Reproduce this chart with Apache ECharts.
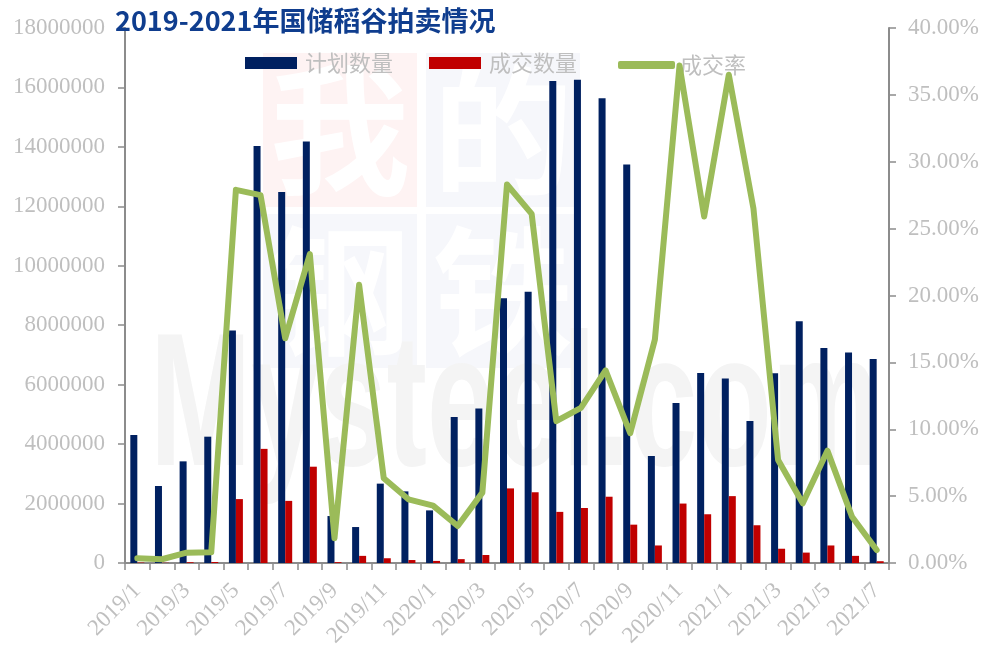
<!DOCTYPE html>
<html>
<head>
<meta charset="utf-8">
<script src="https://cdn.jsdelivr.net/npm/echarts@6/dist/echarts.min.js"></script>
<style>
html,body{margin:0;padding:0;background:#fff;}
#chart{width:985px;height:646px;}
</style>
</head>
<body>
<div id="chart"></div>
<script>
var categories = ['2019/1','2019/2','2019/3','2019/4','2019/5','2019/6','2019/7','2019/8','2019/9','2019/10','2019/11','2019/12',
  '2020/1','2020/2','2020/3','2020/4','2020/5','2020/6','2020/7','2020/8','2020/9','2020/10','2020/11','2020/12',
  '2021/1','2021/2','2021/3','2021/4','2021/5','2021/6','2021/7'];
var planned = [4310000,2590000,3420000,4250000,7820000,14030000,12480000,14180000,1580000,1210000,2670000,2410000,
  1770000,4910000,5200000,8910000,9130000,16220000,16260000,15640000,13410000,3600000,5380000,6390000,
  6210000,4780000,6380000,8130000,7230000,7080000,6860000];
var dealt = [15000,8000,26000,34000,2150000,3840000,2090000,3240000,29000,240000,160000,100000,
  70000,130000,270000,2510000,2380000,1720000,1850000,2230000,1290000,590000,2000000,1640000,
  2250000,1270000,480000,350000,590000,240000,60000];
var rate = [0.0035,0.0028,0.0077,0.0080,0.279,0.275,0.168,0.231,0.0185,0.208,0.0633,0.0476,
  0.0429,0.0277,0.0526,0.283,0.261,0.106,0.116,0.144,0.097,0.167,0.372,0.259,
  0.365,0.265,0.077,0.0446,0.084,0.0346,0.0097];
var leftTicks = {min:0, max:18000000, interval:2000000};
var rightTicks = {min:0, max:0.4, interval:0.05};

var chart = echarts.init(document.getElementById('chart'), null, {renderer:'canvas'});
var gray = '#BFBFBF';
var axisColor = '#8C8C8C';
var cjk = '"Noto Sans CJK SC", sans-serif';
var serif = '"Liberation Serif", "Times New Roman", serif';
var wmFont = 'bold 140px "Noto Sans CJK SC"';

chart.setOption({
  backgroundColor:'#ffffff',
  animation:false,
  title:{
    text:'2019-2021年国储稻谷拍卖情况',
    left:110, top:2,
    textStyle:{color:'#0F3D8E', fontSize:27, fontWeight:'bold', fontFamily:cjk}
  },
  graphic:[
    {type:'rect', z:-10, shape:{x:263,y:53,width:154,height:154}, style:{fill:'#FEF3F3'}},
    {type:'rect', z:-10, shape:{x:426,y:53,width:154,height:154}, style:{fill:'#F6F7FB'}},
    {type:'rect', z:-10, shape:{x:263,y:214,width:154,height:154}, style:{fill:'#F6F7FB'}},
    {type:'rect', z:-10, shape:{x:426,y:214,width:154,height:154}, style:{fill:'#F6F7FB'}},
    {type:'text', z:-9, x:340, y:130, style:{text:'我', font:wmFont, fill:'#ffffff', align:'center', verticalAlign:'middle', textAlign:'center', textVerticalAlign:'middle'}},
    {type:'text', z:-9, x:503, y:130, style:{text:'的', font:wmFont, fill:'#ffffff', align:'center', verticalAlign:'middle', textAlign:'center', textVerticalAlign:'middle'}},
    {type:'text', z:-9, x:340, y:291, style:{text:'钢', font:wmFont, fill:'#ffffff', align:'center', verticalAlign:'middle', textAlign:'center', textVerticalAlign:'middle'}},
    {type:'text', z:-9, x:503, y:291, style:{text:'铁', font:wmFont, fill:'#ffffff', align:'center', verticalAlign:'middle', textAlign:'center', textVerticalAlign:'middle'}},
    {type:'text', z:-8, x:150, y:318, scaleX:0.64, style:{text:'Mysteel.com', font:'bold 190px "Liberation Sans"', fill:'#F4F4F4'}}
  ],
  legend:[
    {
      data:[{name:'计划数量', icon:'rect'},{name:'成交数量', icon:'rect'}],
      left:240, top:47,
      itemWidth:52, itemHeight:12, itemGap:36,
      textStyle:{color:gray, fontSize:22, fontFamily:cjk, padding:[0,0,0,3]}
    },
    {
      data:[{name:'成交率', icon:'roundRect'}],
      left:613, top:49,
      itemWidth:57, itemHeight:8,
      textStyle:{color:gray, fontSize:22, fontFamily:cjk, padding:[0,0,0,0]}
    }
  ],
  grid:{left:125, right:96, top:28, bottom:83, containLabel:false, outerBoundsMode:'none'},
  xAxis:{
    type:'category',
    data:categories,
    boundaryGap:true,
    axisLine:{lineStyle:{color:axisColor, width:2}},
    axisTick:{show:true, interval:0, length:7, lineStyle:{color:axisColor, width:1.5}},
    axisLabel:{interval:1, rotate:45, color:gray, fontSize:23, fontFamily:serif, margin:24}
  },
  yAxis:[
    {
      type:'value', min:leftTicks.min, max:leftTicks.max, interval:leftTicks.interval,
      axisLine:{show:true, lineStyle:{color:axisColor, width:2}},
      axisTick:{show:true, length:7, lineStyle:{color:axisColor, width:1.5}},
      splitLine:{show:false},
      axisLabel:{color:gray, fontSize:23, fontFamily:serif, margin:20,
        formatter:function(v){return String(v);}}
    },
    {
      type:'value', min:rightTicks.min, max:rightTicks.max, interval:rightTicks.interval,
      position:'right',
      axisLine:{show:true, lineStyle:{color:axisColor, width:2}},
      axisTick:{show:true, length:7, lineStyle:{color:axisColor, width:1.5}},
      splitLine:{show:false},
      axisLabel:{color:gray, fontSize:23, fontFamily:serif, margin:19,
        formatter:function(v){return (v*100).toFixed(2)+'%';}}
    }
  ],
  series:[
    {name:'计划数量', type:'bar', data:planned, yAxisIndex:0, barWidth:7, barGap:'0%',
      itemStyle:{color:'#002060'}},
    {name:'成交数量', type:'bar', data:dealt, yAxisIndex:0, barWidth:7, barGap:'0%',
      itemStyle:{color:'#C00000'}},
    {name:'成交率', type:'line', data:rate, yAxisIndex:1, showSymbol:false, symbol:'none',
      z:5,
      lineStyle:{color:'#9BBB59', width:6, cap:'round', join:'round'},
      itemStyle:{color:'#9BBB59'}}
  ]
});
</script>
</body>
</html>
